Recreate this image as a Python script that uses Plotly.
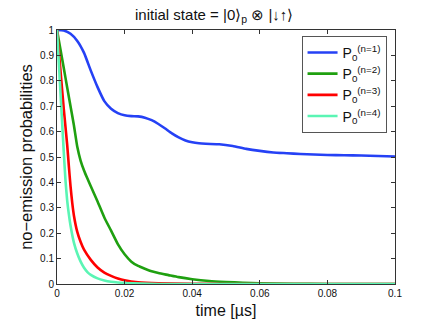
import plotly.graph_objects as go

# --- data ---
time_blue = [0, 0.002, 0.004, 0.006, 0.008, 0.010, 0.012, 0.014, 0.016, 0.018,
             0.020, 0.022, 0.024, 0.026, 0.028, 0.030, 0.032, 0.034, 0.036, 0.038,
             0.040, 0.042, 0.044, 0.048, 0.052, 0.056, 0.060, 0.064, 0.068, 0.072,
             0.076, 0.080, 0.085, 0.090, 0.095, 0.100]
p_n1 = [1.0, 0.998, 0.985, 0.957, 0.91, 0.84, 0.775, 0.72, 0.69, 0.673,
        0.664, 0.661, 0.66, 0.655, 0.645, 0.630, 0.612, 0.593, 0.577, 0.565,
        0.558, 0.554, 0.552, 0.550, 0.543, 0.532, 0.524, 0.518, 0.515, 0.512,
        0.510, 0.508, 0.507, 0.506, 0.504, 0.502]

time_green = [0, 0.001, 0.002, 0.003, 0.004, 0.005, 0.006, 0.007, 0.008, 0.009,
              0.010, 0.012, 0.014, 0.016, 0.018, 0.020, 0.022, 0.024, 0.026, 0.028,
              0.030, 0.033, 0.036, 0.040, 0.045, 0.050, 0.055, 0.060, 0.070, 0.080, 0.100]
p_n2 = [1.0, 0.925, 0.85, 0.775, 0.70, 0.625, 0.54, 0.485, 0.447, 0.415,
        0.385, 0.325, 0.262, 0.21, 0.157, 0.117, 0.088, 0.071, 0.06, 0.05,
        0.043, 0.035, 0.027, 0.019, 0.012, 0.008, 0.005, 0.003, 0.001, 0.0, 0.0]

time_red = [0, 0.001, 0.002, 0.003, 0.0035, 0.004, 0.0045, 0.005, 0.006, 0.007,
            0.008, 0.010, 0.012, 0.014, 0.016, 0.018, 0.020, 0.024, 0.030, 0.040,
            0.050, 0.100]
p_n3 = [1.0, 0.845, 0.69, 0.55, 0.465, 0.385, 0.32, 0.27, 0.205, 0.165,
        0.135, 0.095, 0.065, 0.045, 0.032, 0.022, 0.015, 0.007, 0.003, 0.001,
        0.0, 0.0]

time_cyan = [0, 0.0005, 0.001, 0.0015, 0.002, 0.0025, 0.003, 0.0035, 0.004, 0.005,
             0.006, 0.007, 0.008, 0.009, 0.010, 0.012, 0.014, 0.016, 0.018, 0.020,
             0.025, 0.030, 0.100]
p_n4 = [1.0, 0.88, 0.76, 0.64, 0.52, 0.41, 0.33, 0.275, 0.23, 0.163,
        0.12, 0.088, 0.064, 0.047, 0.036, 0.022, 0.014, 0.009, 0.006, 0.004,
        0.0015, 0.0, 0.0]

series = [
    (time_blue, p_n1, "P<sub>0</sub><sup>(n=1)</sup>", "#2541f5"),
    (time_green, p_n2, "P<sub>0</sub><sup>(n=2)</sup>", "#1fa010"),
    (time_red, p_n3, "P<sub>0</sub><sup>(n=3)</sup>", "#ff0000"),
    (time_cyan, p_n4, "P<sub>0</sub><sup>(n=4)</sup>", "#5af5b4"),
]

x_ticks = [0, 0.02, 0.04, 0.06, 0.08, 0.1]
x_labels = ["0", "0.02", "0.04", "0.06", "0.08", "0.1"]
y_ticks = [0, 0.1, 0.2, 0.3, 0.4, 0.5, 0.6, 0.7, 0.8, 0.9, 1]
y_labels = ["0", "0.1", "0.2", "0.3", "0.4", "0.5", "0.6", "0.7", "0.8", "0.9", "1"]

fig = go.Figure()
for xs, ys, name, color in series:
    fig.add_trace(go.Scatter(x=xs, y=ys, name=name, mode="lines",
                             line=dict(color=color, width=2.6, shape="spline", smoothing=0.5)))

axis_style = dict(showline=True, linecolor="#333333", linewidth=1, mirror="ticks",
                  ticks="inside", ticklen=4, tickcolor="#333333", showgrid=False,
                  zeroline=False, tickfont=dict(size=10, color="#111111"))

fig.update_layout(
    width=436, height=328,
    font=dict(family="Liberation Sans, Arial, sans-serif", color="#111111"),
    paper_bgcolor="white", plot_bgcolor="white",
    margin=dict(l=57, r=41, t=30, b=37),
    title=dict(text="initial state = |0⟩<sub>p</sub> ⊗ |↓↑⟩", font=dict(size=15),
               x=0.465, xref="paper", xanchor="center", y=0.955, yref="container", yanchor="middle"),
    xaxis=dict(range=[0, 0.1], tickvals=x_ticks, ticktext=x_labels,
               title=dict(text="time [µs]", font=dict(size=16), standoff=6), **axis_style),
    yaxis=dict(range=[0, 1], tickvals=y_ticks, ticktext=y_labels,
               title=dict(text="no−emission probabilities", font=dict(size=16.5), standoff=3), **axis_style),
    legend=dict(x=0.975, y=0.977, xanchor="right", yanchor="top", bgcolor="white",
                bordercolor="#555555", borderwidth=1, font=dict(size=14),
                tracegroupgap=0, itemwidth=30),
    showlegend=True,
)

# the page body has a default 8px margin; drop it so the figure fills the window
fig.write_html("out.html", config={"displayModeBar": False},
               post_script="document.body.style.margin='0';")
